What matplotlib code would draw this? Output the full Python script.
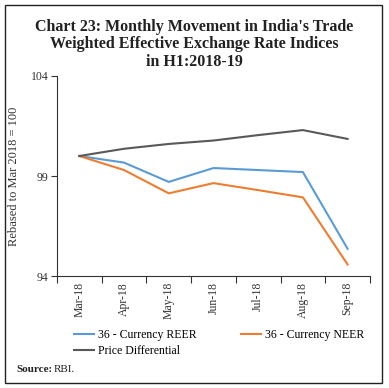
import numpy as np
import matplotlib.pyplot as plt
from matplotlib.patches import Rectangle

months = ["Mar-18", "Apr-18", "May-18", "Jun-18", "Jul-18", "Aug-18", "Sep-18"]
reer = [100.0, 99.67, 98.71, 99.40, 99.30, 99.20, 95.38]
neer = [100.0, 99.30, 98.14, 98.65, 98.30, 97.94, 94.60]
price_diff = [100.0, 100.36, 100.60, 100.77, 101.04, 101.29, 100.85]
yticks = [94, 99, 104]

plt.rcParams['font.family'] = ['Liberation Serif', 'DejaVu Serif']

fig = plt.figure(figsize=(3.89, 3.88), dpi=100)
fig.patches.append(Rectangle((5 / 389, 5 / 388), 377 / 389, 378 / 388,
                             transform=fig.transFigure, fill=False,
                             edgecolor='#222222', linewidth=1.0))

fig.text(0.5, 0.952, "Chart 23: Monthly Movement in India's Trade\n"
         "Weighted Effective Exchange Rate Indices\nin H1:2018-19",
         ha='center', va='top', fontsize=11.5, fontweight='bold',
         linespacing=1.12, color='#222222')

ax = fig.add_axes([0.1465, 0.2874, 0.8045, 0.5176])
x = np.arange(len(months))
l1, = ax.plot(x, reer, color='#5B9BD5', lw=1.5, label='36 - Currency REER')
l2, = ax.plot(x, neer, color='#ED7D31', lw=1.5, label='36 - Currency NEER')
l3, = ax.plot(x, price_diff, color='#595959', lw=1.5, label='Price Differential')

ax.set_xlim(-0.5, len(months) - 0.5)
ax.set_ylim(94, 104)
ax.set_yticks(yticks)
ax.set_yticklabels([str(v) for v in yticks], fontsize=8.5, color='#333333')
ax.set_xticks(x)
ax.set_xticklabels(months, rotation=90, fontsize=8.5, color='#333333')
ax.set_xticks(np.arange(-0.5, len(months)), minor=True)
ax.tick_params(axis='x', which='major', length=0, pad=4)
ax.tick_params(axis='x', which='minor', length=5, width=0.8, color='#333333')
ax.tick_params(axis='y', length=4, width=0.8, color='#333333', pad=2)
for s in ['top', 'right']:
    ax.spines[s].set_visible(False)
for s in ['left', 'bottom']:
    ax.spines[s].set_color('#333333')
    ax.spines[s].set_linewidth(0.8)
ax.set_ylabel("Rebased to Mar 2018 = 100", fontsize=9, color='#333333', labelpad=8)

fig.legend([l1, l3, l2], [l1.get_label(), l3.get_label(), l2.get_label()],
           ncol=2, loc='upper left', bbox_to_anchor=(0.178, 0.163),
           frameon=False, fontsize=8.5, handlelength=1.7, handletextpad=0.3,
           columnspacing=3.8, labelspacing=0.3, borderaxespad=0)

fig.text(0.041, 0.042, "Source:", fontsize=8, fontweight='bold', color='#222222')
fig.text(0.138, 0.042, "RBI.", fontsize=8, color='#222222')

fig.savefig("out.png", dpi=100)
